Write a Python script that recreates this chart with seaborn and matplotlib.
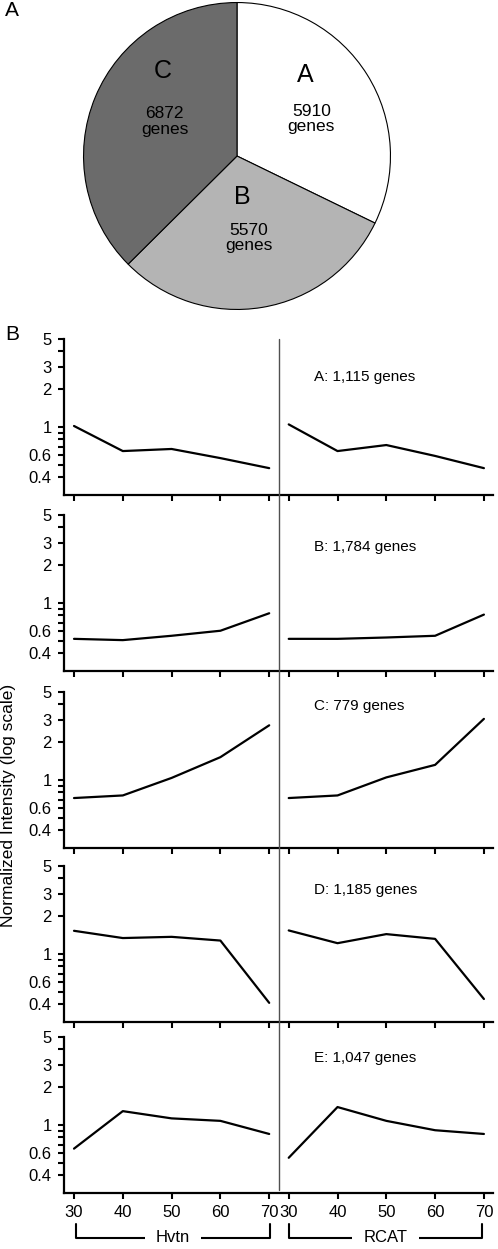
import pandas as pd
import matplotlib
matplotlib.use('Agg')
import matplotlib.pyplot as plt
from matplotlib.lines import Line2D
from matplotlib.ticker import NullLocator
import seaborn as sns

# 饼图数据
pie_labels = ['A', 'B', 'C']
pie_genes = [5910, 5570, 6872]
pie_colors = ['#ffffff', '#b4b4b4', '#6b6b6b']

# 折线图数据（温度 vs 归一化强度）
temps = [30, 40, 50, 60, 70]
strains = ['Hvtn', 'RCAT']
clusters = ['A', 'B', 'C', 'D', 'E']
cluster_sizes = ['1,115', '1,784', '779', '1,185', '1,047']
hvtn_A = [1.02, 0.645, 0.67, 0.567, 0.472]
rcat_A = [1.05, 0.645, 0.72, 0.59, 0.472]
hvtn_B = [0.52, 0.508, 0.55, 0.603, 0.83]
rcat_B = [0.52, 0.52, 0.533, 0.55, 0.81]
hvtn_C = [0.72, 0.755, 1.04, 1.52, 2.72]
rcat_C = [0.72, 0.755, 1.05, 1.32, 3.06]
hvtn_D = [1.53, 1.34, 1.37, 1.28, 0.41]
rcat_D = [1.54, 1.22, 1.44, 1.32, 0.44]
hvtn_E = [0.65, 1.29, 1.13, 1.08, 0.85]
rcat_E = [0.55, 1.39, 1.08, 0.91, 0.85]
hvtn_vals = [hvtn_A, hvtn_B, hvtn_C, hvtn_D, hvtn_E]
rcat_vals = [rcat_A, rcat_B, rcat_C, rcat_D, rcat_E]

# 整理成长表
rows = []
for c, hv, rc in zip(clusters, hvtn_vals, rcat_vals):
    for t, v in zip(temps, hv):
        rows.append({'cluster': c, 'strain': 'Hvtn', 'temp': t, 'intensity': v})
    for t, v in zip(temps, rc):
        rows.append({'cluster': c, 'strain': 'RCAT', 'temp': t, 'intensity': v})
df = pd.DataFrame(rows)
offset = {'Hvtn': 0.0, 'RCAT': 4.4}  # 两组之间留一点间隔
df['pos'] = (df['temp'] - 30) / 10 + df['strain'].map(offset)

sns.set_theme(style='ticks')
plt.rcParams['font.family'] = ['Liberation Sans', 'DejaVu Sans']
plt.rcParams['text.color'] = 'black'

W, H = 498, 1249
fig = plt.figure(figsize=(W / 100, H / 100), dpi=100)


def px_rect(x0, y0, w, h):
    # 像素坐标（左上为原点）转 figure 坐标
    return [x0 / W, 1 - (y0 + h) / H, w / W, h / H]


# ---- A: 饼图 ----
ax_pie = fig.add_axes(px_rect(237 - 155, 156 - 155, 310, 310))
ax_pie.pie(pie_genes, colors=pie_colors, startangle=90, counterclock=False,
           wedgeprops={'edgecolor': 'black', 'linewidth': 0.8})
ax_pie.set_xlim(-1.01, 1.01)
ax_pie.set_ylim(-1.01, 1.01)
letter_xy = [(0.445, 0.53), (0.032, -0.27), (-0.484, 0.555)]
count_xy = [(0.484, 0.24), (0.077, -0.535), (-0.47, 0.225)]
for lab, n, (lx, ly), (cx, cy) in zip(pie_labels, pie_genes, letter_xy, count_xy):
    ax_pie.text(lx, ly, lab, ha='center', va='center', fontsize=18)
    ax_pie.text(cx, cy, f'{n}\ngenes', ha='center', va='center', fontsize=12.5,
                linespacing=1.05)
fig.text(5 / W, 1 - 11 / H, 'A', fontsize=15, va='center', ha='left')

# ---- B: 折线图 ----
row_tops = [339, 515, 692, 866, 1037]
ax_h = 155.8
label_y = [2.5, 2.8, 3.9, 3.2, 3.4]
xticks = [(t - 30) / 10 + offset[s] for s in strains for t in temps]
yticks = [0.4, 0.5, 0.6, 0.7, 0.8, 0.9, 1, 2, 3, 4, 5]
ylabels = ['0.4', '', '0.6', '', '', '', '1', '2', '3', '', '5']

for i, c in enumerate(clusters):
    ax = fig.add_axes(px_rect(64, row_tops[i], 428.7, ax_h))
    sub = df[df['cluster'] == c]
    sns.lineplot(data=sub, x='pos', y='intensity', units='strain', estimator=None,
                 color='black', linewidth=1.6, legend=False, ax=ax)
    ax.set_yscale('log')
    ax.set_ylim(0.29, 5)
    ax.set_xlim(-0.205, 8.58)
    ax.set_yticks(yticks, ylabels)
    ax.yaxis.set_minor_locator(NullLocator())
    ax.set_xticks(xticks)
    if i == len(clusters) - 1:
        ax.set_xticklabels([str(t) for t in temps] * 2)
    else:
        ax.set_xticklabels([])
    ax.tick_params(direction='out', length=4, width=1.5, labelsize=12,
                   colors='black')
    ax.tick_params(axis='y', pad=5)
    ax.tick_params(axis='x', pad=5)
    for sp in ['top', 'right']:
        ax.spines[sp].set_visible(False)
    for sp in ['left', 'bottom']:
        ax.spines[sp].set_linewidth(1.6)
        ax.spines[sp].set_color('black')
    ax.set_xlabel('')
    ax.set_ylabel('')
    ax.set_facecolor('none')
    ax.text(4.92, label_y[i], f'{c}: {cluster_sizes[i]} genes', ha='left', va='center',
            fontsize=11)

fig.text(5 / W, 1 - 334 / H, 'B', fontsize=15, va='center', ha='left')
fig.text(9 / W, 1 - 805 / H, 'Normalized Intensity (log scale)', rotation=90,
         ha='center', va='center', fontsize=12.5)

# 两组之间的竖线
fig.add_artist(Line2D([279 / W, 279 / W], [1 - 339 / H, 1 - 1190 / H],
                      transform=fig.transFigure, color='#505050', linewidth=1.0))

# 底部括号
for (x0, x1), name in zip([(76, 270), (289, 482)], strains):
    ys = [1 - 1224 / H, 1 - 1238 / H, 1 - 1238 / H, 1 - 1224 / H]
    xs = [x0 / W, x0 / W, x1 / W, x1 / W]
    fig.add_artist(Line2D(xs, ys, transform=fig.transFigure, color='black',
                          linewidth=1.5))
    fig.text((x0 + x1) / 2 / W, 1 - 1238 / H, name, ha='center', va='center',
             fontsize=12, bbox=dict(facecolor='white', edgecolor='none', pad=8))

plt.savefig('out.png', dpi=100)
